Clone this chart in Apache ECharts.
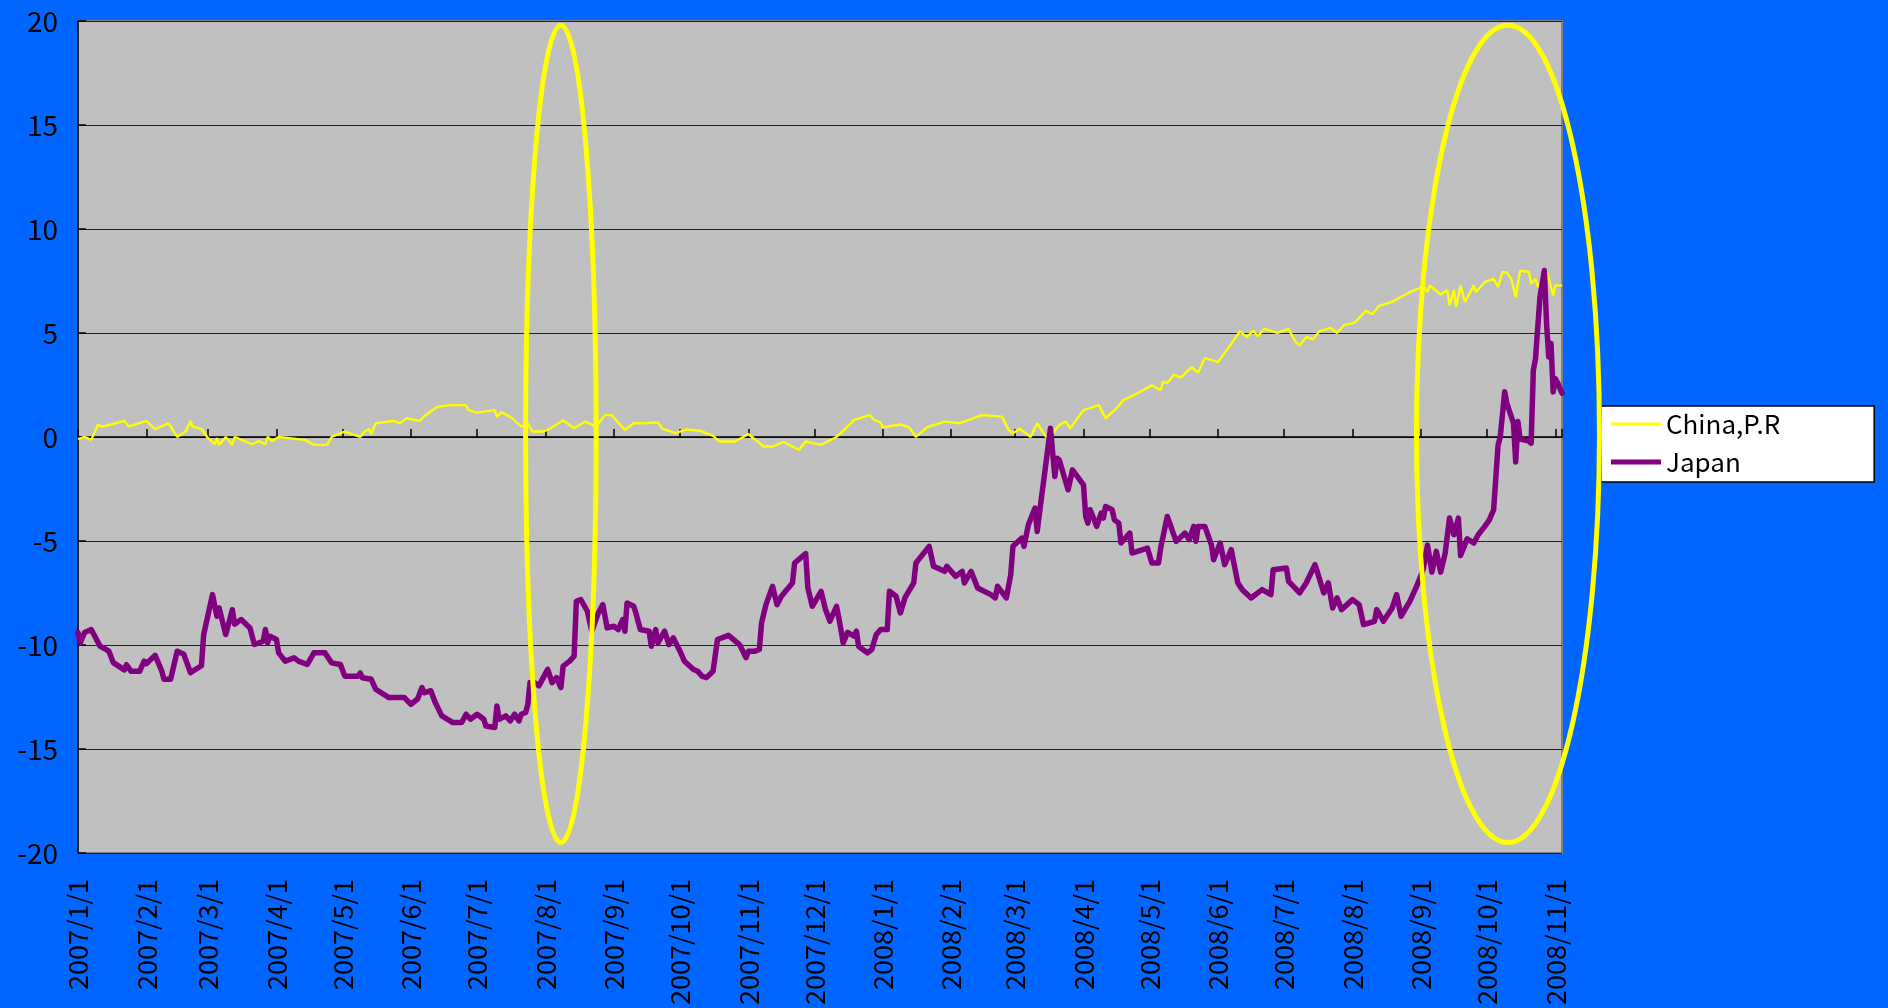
<!DOCTYPE html>
<html>
<head>
<meta charset="utf-8">
<script src="https://cdn.jsdelivr.net/npm/echarts@6/dist/echarts.min.js"></script>
<style>
html, body { margin: 0; padding: 0; background: #0066ff; }
#chart { width: 1888px; height: 1008px; }
</style>
</head>
<body>
<div id="chart"></div>
<script>
// values: [date, %]
const seriesNames = ['China,P.R', 'Japan'];

const china = [
	['2007-01-01', -0.1], ['2007-01-04', 0.0], ['2007-01-07', -0.14], ['2007-01-10', 0.58], ['2007-01-12', 0.5],
	['2007-01-16', 0.6], ['2007-01-22', 0.77], ['2007-01-24', 0.5], ['2007-02-01', 0.77], ['2007-02-05', 0.38],
	['2007-02-11', 0.66], ['2007-02-15', 0.0], ['2007-02-19', 0.29], ['2007-02-21', 0.77], ['2007-02-22', 0.5],
	['2007-02-26', 0.38], ['2007-03-01', -0.06], ['2007-03-04', -0.35], ['2007-03-05', -0.05], ['2007-03-06', -0.38],
	['2007-03-09', 0.0], ['2007-03-12', -0.38], ['2007-03-13', 0.0], ['2007-03-21', -0.35], ['2007-03-24', -0.2],
	['2007-03-27', -0.35], ['2007-03-28', 0.0], ['2007-03-30', -0.2], ['2007-04-02', 0.0], ['2007-04-14', -0.14],
	['2007-04-18', -0.38], ['2007-04-24', -0.38], ['2007-04-26', 0.0], ['2007-04-30', 0.18], ['2007-05-02', 0.26],
	['2007-05-09', 0.0], ['2007-05-11', 0.26], ['2007-05-13', 0.38], ['2007-05-14', 0.14], ['2007-05-16', 0.66],
	['2007-05-24', 0.77], ['2007-05-27', 0.66], ['2007-05-30', 0.9], ['2007-06-05', 0.77], ['2007-06-07', 1.0],
	['2007-06-13', 1.45], ['2007-06-19', 1.53], ['2007-06-26', 1.53], ['2007-06-27', 1.29], ['2007-07-01', 1.17],
	['2007-07-09', 1.29], ['2007-07-10', 0.97], ['2007-07-12', 1.2], ['2007-07-17', 0.9], ['2007-07-21', 0.5],
	['2007-07-24', 0.66], ['2007-07-26', 0.26], ['2007-07-31', 0.26], ['2007-08-03', 0.4], ['2007-08-06', 0.6],
	['2007-08-09', 0.8], ['2007-08-14', 0.42], ['2007-08-19', 0.74], ['2007-08-24', 0.5], ['2007-08-28', 1.05],
	['2007-08-31', 1.05], ['2007-09-06', 0.34], ['2007-09-10', 0.66], ['2007-09-14', 0.66], ['2007-09-21', 0.7],
	['2007-09-23', 0.4], ['2007-09-29', 0.18], ['2007-10-04', 0.36], ['2007-10-10', 0.3], ['2007-10-16', 0.05],
	['2007-10-19', -0.22], ['2007-10-26', -0.22], ['2007-11-01', 0.14], ['2007-11-08', -0.46], ['2007-11-12', -0.46],
	['2007-11-17', -0.24], ['2007-11-24', -0.62], ['2007-11-27', -0.22], ['2007-12-04', -0.38], ['2007-12-11', 0.0],
	['2007-12-17', 0.6], ['2007-12-19', 0.82], ['2007-12-26', 1.05], ['2007-12-28', 0.82], ['2007-12-31', 0.7],
	['2008-01-01', 0.46], ['2008-01-09', 0.6], ['2008-01-13', 0.46], ['2008-01-16', 0.0], ['2008-01-21', 0.46],
	['2008-01-29', 0.74], ['2008-02-05', 0.66], ['2008-02-15', 1.05], ['2008-02-24', 0.98], ['2008-02-27', 0.34],
	['2008-02-29', 0.18], ['2008-03-03', 0.4], ['2008-03-08', 0.0], ['2008-03-11', 0.66], ['2008-03-15', 0.0],
	['2008-03-18', 0.18], ['2008-03-21', 0.58], ['2008-03-24', 0.74], ['2008-03-26', 0.42], ['2008-04-01', 1.29],
	['2008-04-08', 1.53], ['2008-04-11', 0.9], ['2008-04-16', 1.37], ['2008-04-19', 1.77], ['2008-04-24', 2.01],
	['2008-05-02', 2.49], ['2008-05-06', 2.25], ['2008-05-07', 2.65], ['2008-05-09', 2.6], ['2008-05-12', 3.0],
	['2008-05-15', 2.85], ['2008-05-20', 3.35], ['2008-05-23', 3.1], ['2008-05-26', 3.8], ['2008-06-01', 3.6],
	['2008-06-06', 4.33], ['2008-06-11', 5.08], ['2008-06-14', 4.8], ['2008-06-17', 5.1], ['2008-06-19', 4.85],
	['2008-06-22', 5.2], ['2008-06-28', 5.0], ['2008-07-03', 5.2], ['2008-07-06', 4.6], ['2008-07-08', 4.4],
	['2008-07-11', 4.8], ['2008-07-14', 4.7], ['2008-07-17', 5.08], ['2008-07-22', 5.25], ['2008-07-25', 5.0],
	['2008-07-28', 5.37], ['2008-08-02', 5.5], ['2008-08-07', 6.06], ['2008-08-10', 5.9], ['2008-08-13', 6.3],
	['2008-08-19', 6.5], ['2008-08-23', 6.73], ['2008-08-26', 6.9], ['2008-08-27', 6.97], ['2008-08-31', 7.13],
	['2008-09-02', 7.3], ['2008-09-04', 6.97], ['2008-09-05', 7.29], ['2008-09-10', 6.85], ['2008-09-13', 7.05],
	['2008-09-14', 6.33], ['2008-09-16', 7.05], ['2008-09-17', 6.25], ['2008-09-19', 7.29], ['2008-09-21', 6.49],
	['2008-09-23', 6.89], ['2008-09-25', 7.29], ['2008-09-26', 6.97], ['2008-09-30', 7.45], ['2008-10-04', 7.61],
	['2008-10-06', 7.21], ['2008-10-08', 7.93], ['2008-10-10', 7.9], ['2008-10-12', 7.6], ['2008-10-14', 6.73],
	['2008-10-16', 8.0], ['2008-10-20', 7.93], ['2008-10-21', 7.37], ['2008-10-23', 7.6], ['2008-10-24', 7.21],
	['2008-10-28', 8.0], ['2008-10-31', 6.81], ['2008-11-01', 7.29], ['2008-11-04', 7.29]
];

const japan = [
	['2007-01-01', -9.4], ['2007-01-02', -9.9], ['2007-01-04', -9.4], ['2007-01-07', -9.26], ['2007-01-11', -10.06],
	['2007-01-15', -10.3], ['2007-01-17', -10.85], ['2007-01-22', -11.2], ['2007-01-23', -10.95], ['2007-01-25', -11.26],
	['2007-01-29', -11.26], ['2007-01-31', -10.78], ['2007-02-01', -10.9], ['2007-02-05', -10.5], ['2007-02-08', -11.26],
	['2007-02-09', -11.65], ['2007-02-12', -11.65], ['2007-02-15', -10.3], ['2007-02-18', -10.45], ['2007-02-21', -11.33],
	['2007-02-26', -11.0], ['2007-02-27', -9.5], ['2007-03-03', -7.58], ['2007-03-05', -8.62], ['2007-03-06', -8.22],
	['2007-03-09', -9.5], ['2007-03-12', -8.3], ['2007-03-13', -9.0], ['2007-03-16', -8.78], ['2007-03-20', -9.18],
	['2007-03-22', -9.98], ['2007-03-26', -9.82], ['2007-03-27', -9.26], ['2007-03-28', -9.9], ['2007-03-29', -9.58],
	['2007-04-01', -9.74], ['2007-04-02', -10.38], ['2007-04-05', -10.78], ['2007-04-09', -10.62], ['2007-04-11', -10.78],
	['2007-04-15', -10.94], ['2007-04-18', -10.38], ['2007-04-23', -10.38], ['2007-04-26', -10.86], ['2007-04-30', -10.94],
	['2007-05-02', -11.5], ['2007-05-08', -11.5], ['2007-05-09', -11.35], ['2007-05-10', -11.58], ['2007-05-14', -11.65],
	['2007-05-16', -12.13], ['2007-05-22', -12.53], ['2007-05-29', -12.53], ['2007-06-01', -12.85], ['2007-06-04', -12.6],
	['2007-06-06', -12.05], ['2007-06-07', -12.3], ['2007-06-10', -12.2], ['2007-06-12', -12.77], ['2007-06-15', -13.41],
	['2007-06-20', -13.73], ['2007-06-24', -13.73], ['2007-06-26', -13.33], ['2007-06-28', -13.57], ['2007-07-01', -13.33],
	['2007-07-04', -13.57], ['2007-07-05', -13.9], ['2007-07-09', -13.97], ['2007-07-10', -12.93], ['2007-07-11', -13.57],
	['2007-07-14', -13.41], ['2007-07-16', -13.65], ['2007-07-18', -13.33], ['2007-07-20', -13.65], ['2007-07-21', -13.33],
	['2007-07-23', -13.25], ['2007-07-24', -12.85], ['2007-07-25', -11.81], ['2007-07-27', -11.81], ['2007-07-29', -11.97],
	['2007-07-31', -11.57], ['2007-08-02', -11.17], ['2007-08-04', -11.81], ['2007-08-06', -11.57], ['2007-08-08', -12.05],
	['2007-08-09', -11.02], ['2007-08-12', -10.78], ['2007-08-14', -10.54], ['2007-08-15', -7.9], ['2007-08-17', -7.82],
	['2007-08-20', -8.38], ['2007-08-22', -9.34], ['2007-08-25', -8.46], ['2007-08-27', -8.06], ['2007-08-29', -9.18],
	['2007-09-01', -9.1], ['2007-09-03', -9.26], ['2007-09-05', -8.78], ['2007-09-06', -9.34], ['2007-09-07', -7.98],
	['2007-09-10', -8.14], ['2007-09-11', -8.46], ['2007-09-13', -9.26], ['2007-09-17', -9.34], ['2007-09-18', -10.06],
	['2007-09-20', -9.26], ['2007-09-21', -9.9], ['2007-09-24', -9.34], ['2007-09-26', -9.98], ['2007-09-28', -9.66],
	['2007-10-01', -10.3], ['2007-10-03', -10.78], ['2007-10-07', -11.17], ['2007-10-09', -11.26], ['2007-10-11', -11.5],
	['2007-10-13', -11.57], ['2007-10-16', -11.26], ['2007-10-18', -9.74], ['2007-10-23', -9.54], ['2007-10-28', -9.98],
	['2007-10-31', -10.61], ['2007-11-01', -10.3], ['2007-11-04', -10.3], ['2007-11-06', -10.22], ['2007-11-07', -8.94],
	['2007-11-09', -8.06], ['2007-11-12', -7.18], ['2007-11-14', -8.06], ['2007-11-16', -7.66], ['2007-11-21', -7.02],
	['2007-11-22', -6.06], ['2007-11-27', -5.61], ['2007-11-28', -7.26], ['2007-11-30', -8.14], ['2007-12-04', -7.42],
	['2007-12-06', -8.3], ['2007-12-08', -8.86], ['2007-12-11', -8.14], ['2007-12-13', -9.26], ['2007-12-14', -9.9],
	['2007-12-16', -9.4], ['2007-12-19', -9.58], ['2007-12-20', -9.34], ['2007-12-21', -10.06], ['2007-12-25', -10.38],
	['2007-12-27', -10.22], ['2007-12-29', -9.5], ['2007-12-31', -9.26], ['2008-01-03', -9.26], ['2008-01-04', -7.42],
	['2008-01-07', -7.66], ['2008-01-09', -8.46], ['2008-01-11', -7.74], ['2008-01-15', -7.02], ['2008-01-16', -6.06],
	['2008-01-22', -5.26], ['2008-01-24', -6.22], ['2008-01-29', -6.46], ['2008-01-30', -6.22], ['2008-02-03', -6.7],
	['2008-02-06', -6.46], ['2008-02-07', -7.02], ['2008-02-10', -6.46], ['2008-02-13', -7.26], ['2008-02-19', -7.58],
	['2008-02-21', -7.74], ['2008-02-22', -7.18], ['2008-02-26', -7.74], ['2008-02-28', -6.62], ['2008-02-29', -5.26],
	['2008-03-04', -4.86], ['2008-03-05', -5.26], ['2008-03-07', -4.22], ['2008-03-10', -3.42], ['2008-03-11', -4.54],
	['2008-03-13', -2.86], ['2008-03-14', -2.06], ['2008-03-17', 0.42], ['2008-03-19', -1.9], ['2008-03-20', -1.02],
	['2008-03-21', -1.1], ['2008-03-25', -2.54], ['2008-03-27', -1.58], ['2008-04-01', -2.3], ['2008-04-02', -3.82],
	['2008-04-03', -4.14], ['2008-04-04', -3.5], ['2008-04-07', -4.3], ['2008-04-09', -3.66], ['2008-04-10', -3.9],
	['2008-04-11', -3.34], ['2008-04-14', -3.5], ['2008-04-15', -3.98], ['2008-04-17', -4.14], ['2008-04-18', -5.1],
	['2008-04-22', -4.62], ['2008-04-23', -5.58], ['2008-04-30', -5.34], ['2008-05-02', -6.06], ['2008-05-05', -6.06],
	['2008-05-06', -5.34], ['2008-05-09', -3.82], ['2008-05-13', -5.02], ['2008-05-17', -4.62], ['2008-05-19', -4.94],
	['2008-05-21', -4.3], ['2008-05-22', -5.02], ['2008-05-23', -4.3], ['2008-05-26', -4.3], ['2008-05-29', -5.18],
	['2008-05-30', -5.9], ['2008-06-02', -5.1], ['2008-06-04', -6.14], ['2008-06-07', -5.42], ['2008-06-10', -7.02],
	['2008-06-12', -7.34], ['2008-06-16', -7.74], ['2008-06-21', -7.34], ['2008-06-25', -7.58], ['2008-06-26', -6.38],
	['2008-07-02', -6.3], ['2008-07-03', -6.94], ['2008-07-08', -7.5], ['2008-07-11', -7.02], ['2008-07-15', -6.14],
	['2008-07-19', -7.5], ['2008-07-21', -7.02], ['2008-07-23', -8.22], ['2008-07-25', -7.74], ['2008-07-27', -8.3],
	['2008-08-01', -7.82], ['2008-08-04', -8.06], ['2008-08-06', -9.02], ['2008-08-11', -8.86], ['2008-08-12', -8.3],
	['2008-08-15', -8.86], ['2008-08-19', -8.22], ['2008-08-21', -7.58], ['2008-08-23', -8.62], ['2008-08-27', -7.9],
	['2008-08-30', -7.2], ['2008-09-02', -6.4], ['2008-09-04', -5.2], ['2008-09-06', -6.5], ['2008-09-08', -5.5],
	['2008-09-10', -6.5], ['2008-09-12', -5.6], ['2008-09-14', -3.9], ['2008-09-16', -4.7], ['2008-09-18', -3.9],
	['2008-09-19', -5.7], ['2008-09-22', -4.9], ['2008-09-25', -5.1], ['2008-09-27', -4.7], ['2008-09-30', -4.3],
	['2008-10-02', -4.0], ['2008-10-04', -3.5], ['2008-10-06', -0.4], ['2008-10-07', 0.0], ['2008-10-09', 2.17],
	['2008-10-10', 1.62], ['2008-10-13', 0.66], ['2008-10-14', -1.2], ['2008-10-15', 0.74], ['2008-10-16', -0.1],
	['2008-10-20', -0.2], ['2008-10-21', -0.3], ['2008-10-22', 3.2], ['2008-10-23', 3.77], ['2008-10-25', 6.73],
	['2008-10-27', 8.0], ['2008-10-28', 5.45], ['2008-10-29', 3.85], ['2008-10-30', 4.5], ['2008-10-31', 2.17],
	['2008-11-01', 2.8], ['2008-11-02', 2.6], ['2008-11-04', 2.1]
];

const xMin = '2007-01-01';
const xMax = '2008-11-04';
const yTicks = [-20, 20, 5]; // min, max, step

// the two highlighted periods (yellow rings), in data units
const rings = [
	{from: '2007-07-23', to: '2007-08-24', low: -19.5, high: 19.8},
	{from: '2008-08-30', to: '2008-11-21', low: -19.5, high: 19.8}
];

const font = '"Noto Sans CJK JP", "Noto Sans", sans-serif';
const day = 24 * 3600 * 1000;

let chart = echarts.init(document.getElementById('chart'));

let timeAxis = {
	type: 'time',
	min: xMin,
	max: xMax,
	splitNumber: 22,
	minInterval: 28 * day,
	maxInterval: 31 * day,
	splitLine: {show: false}
};

let option = {
	backgroundColor: '#0066ff',
	animation: false,
	grid: {
		left: 78,
		top: 21,
		width: 1484,
		height: 834,
		show: true,
		backgroundColor: '#c0c0c0',
		borderColor: '#808080',
		borderWidth: 2
	},
	legend: {
		orient: 'vertical',
		left: 1601,
		top: 406,
		padding: [5, 94, 7, 10],
		itemGap: 12,
		itemWidth: 50,
		itemHeight: 26,
		backgroundColor: '#ffffff',
		borderColor: '#000000',
		borderWidth: 1.5,
		textStyle: {fontFamily: font, fontSize: 26, color: '#000', lineHeight: 26},
		data: [
			{name: seriesNames[0], icon: 'path://M0,0H50V3H0Z', itemStyle: {borderWidth: 0}},
			{name: seriesNames[1], icon: 'path://M0,0H50V5H0Z', itemStyle: {borderWidth: 0}}
		]
	},
	xAxis: [
		Object.assign({}, timeAxis, {
			position: 'bottom',
			axisLine: {onZero: false, show: false},
			axisTick: {show: false},
			axisLabel: {
				rotate: 90,
				margin: 26,
				fontFamily: font,
				fontSize: 27,
				color: '#000',
				formatter: '{yyyy}/{M}/{d}'
			}
		}),
		Object.assign({}, timeAxis, {
			position: 'bottom',
			axisLine: {onZero: true, lineStyle: {color: '#000', width: 1.5}},
			axisTick: {show: true, inside: true, length: 8, lineStyle: {color: '#000', width: 1.5}},
			axisLabel: {show: false}
		})
	],
	yAxis: {
		type: 'value',
		min: yTicks[0],
		max: yTicks[1],
		interval: yTicks[2],
		axisLine: {show: true, lineStyle: {color: '#000', width: 1.5}},
		axisTick: {show: true, inside: true, length: 8, lineStyle: {color: '#000', width: 1.5}},
		axisLabel: {fontFamily: font, fontSize: 28, color: '#000', margin: 20},
		splitLine: {lineStyle: {color: '#222', width: 1}}
	},
	series: [
		{
			name: seriesNames[0],
			type: 'line',
			data: china,
			showSymbol: false,
			symbol: 'none',
			color: '#ffff00',
			lineStyle: {color: '#ffff00', width: 2.4},
			z: 3
		},
		{
			name: seriesNames[1],
			type: 'line',
			data: japan,
			showSymbol: false,
			symbol: 'none',
			color: '#800080',
			lineStyle: {color: '#800080', width: 5.5, cap: 'round', join: 'round'},
			z: 4
		}
	]
};

chart.setOption(option);

// rings drawn on top, placed through the axes
let ringShapes = rings.map(r => {
	let a = chart.convertToPixel({gridIndex: 0}, [+echarts.time.parse(r.from), r.high]);
	let b = chart.convertToPixel({gridIndex: 0}, [+echarts.time.parse(r.to), r.low]);
	return {
		type: 'ellipse',
		z: 100,
		shape: {
			cx: (a[0] + b[0]) / 2,
			cy: (a[1] + b[1]) / 2,
			rx: Math.abs(b[0] - a[0]) / 2,
			ry: Math.abs(b[1] - a[1]) / 2
		},
		style: {fill: null, stroke: '#ffff00', lineWidth: 5}
	};
});
chart.setOption({graphic: ringShapes});
</script>
</body>
</html>
